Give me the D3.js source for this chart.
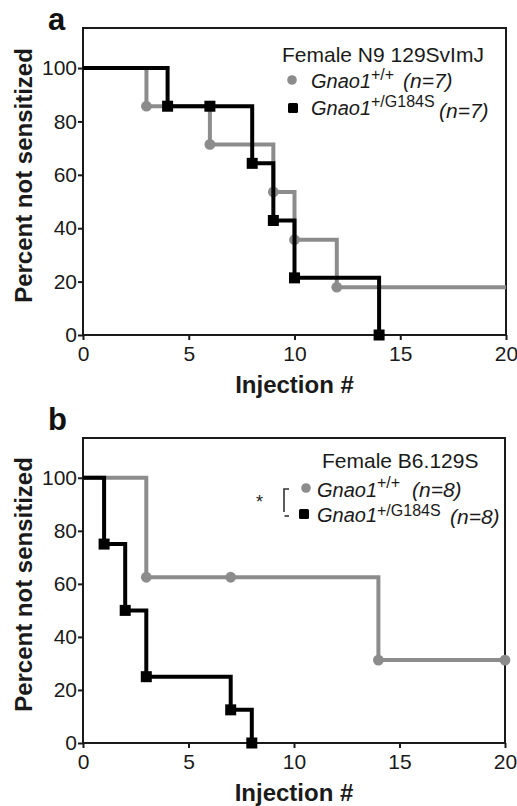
<!DOCTYPE html>
<html><head><meta charset="utf-8">
<script src="https://cdn.jsdelivr.net/npm/d3@7"></script>
<style>body{margin:0;background:#fff}svg{display:block}</style>
</head><body>
<svg id="c" width="517" height="806"></svg>
<script>
// ---------- data ----------
const xTicks = [0, 5, 10, 15, 20];
const yTicks = [0, 20, 40, 60, 80, 100];

// Panel a: Female N9 129SvImJ
const aWtT = [0, 3, 6, 9, 10, 12, 20];
const aWtP = [100, 85.7, 71.4, 53.6, 35.7, 17.9, 17.9];
const aWtMarkT = [3, 6, 9, 10, 12];
const aWtMarkP = [85.7, 71.4, 53.6, 35.7, 17.9];
const aMutT = [0, 4, 8, 9, 10, 14];
const aMutP = [100, 85.7, 64.3, 42.9, 21.4, 0];
const aMutMarkT = [4, 6, 8, 9, 10, 14];
const aMutMarkP = [85.7, 85.7, 64.3, 42.9, 21.4, 0];

// Panel b: Female B6.129S
const bWtT = [0, 3, 14, 20];
const bWtP = [100, 62.5, 31.25, 31.25];
const bWtMarkT = [3, 7, 14, 20];
const bWtMarkP = [62.5, 62.5, 31.25, 31.25];
const bMutT = [0, 1, 2, 3, 7, 8];
const bMutP = [100, 75, 50, 25, 12.5, 0];
const bMutMarkT = [1, 2, 3, 7, 8];
const bMutMarkP = [75, 50, 25, 12.5, 0];

const panelLabels = ["a", "b"];
const legendTitles = ["Female N9 129SvImJ", "Female B6.129S"];
const geneName = "Gnao1";
const genotypes = ["+/+", "+/G184S"];
const nLabels = [["(n=7)", "(n=7)"], ["(n=8)", "(n=8)"]];
const xTitle = "Injection #";
const yTitle = "Percent not sensitized";

// ---------- drawing ----------
const FONT = "'Liberation Sans', Arial, Helvetica, sans-serif";
const GRAY = "#8c8c8c";
const svg = d3.select("#c").style("font-family", FONT);

function zip(t, p) { return t.map((d, i) => [d, p[i]]); }

function panel(cfg) {
  const x = d3.scaleLinear().domain([0, 20]).range([cfg.left, cfg.right]);
  const y = d3.scaleLinear().domain([0, 115]).range([cfg.bottom, cfg.top]);
  const g = svg.append("g");

  // frame
  g.append("rect").attr("x", cfg.left).attr("y", cfg.top)
    .attr("width", cfg.right - cfg.left).attr("height", cfg.bottom - cfg.top)
    .attr("fill", "none").attr("stroke", "#1a1a1a").attr("stroke-width", 2);

  // axes
  const ax = g.append("g").attr("transform", `translate(0,${cfg.bottom})`)
    .call(d3.axisBottom(x).tickValues(xTicks).tickSize(5).tickSizeOuter(0).tickPadding(6));
  const ay = g.append("g").attr("transform", `translate(${cfg.left},0)`)
    .call(d3.axisLeft(y).tickValues(yTicks).tickSize(5).tickSizeOuter(0).tickPadding(1));
  [ax, ay].forEach(a => {
    a.select(".domain").remove();
    a.selectAll("line").attr("stroke", "#1a1a1a").attr("stroke-width", 2);
    a.selectAll("text").attr("font-size", 21).attr("font-family", FONT).attr("fill", "#1a1a1a");
  });

  // titles
  g.append("text").attr("x", (cfg.left + cfg.right) / 2).attr("y", cfg.bottom + 58)
    .attr("text-anchor", "middle").attr("font-size", 24).attr("font-weight", "bold")
    .attr("fill", "#1a1a1a").text(xTitle);
  g.append("text")
    .attr("transform", `translate(32,${(cfg.top + cfg.bottom) / 2 - 6}) rotate(-90)`)
    .attr("text-anchor", "middle").attr("font-size", 24).attr("font-weight", "bold")
    .attr("fill", "#1a1a1a").text(yTitle);
  g.append("text").attr("x", 48).attr("y", cfg.top + cfg.labelDy)
    .attr("font-size", 31).attr("font-weight", "bold").attr("fill", "#111").text(cfg.label);

  const line = d3.line().x(d => x(d[0])).y(d => y(d[1])).curve(d3.curveStepAfter);

  // wild type (gray)
  g.append("path").datum(zip(cfg.wtT, cfg.wtP)).attr("d", line)
    .attr("fill", "none").attr("stroke", GRAY).attr("stroke-width", 4);
  g.selectAll(".wtm").data(zip(cfg.wtMT, cfg.wtMP)).join("circle")
    .attr("cx", d => x(d[0])).attr("cy", d => y(d[1])).attr("r", 5.4).attr("fill", GRAY);

  // mutant (black)
  g.append("path").datum(zip(cfg.mutT, cfg.mutP)).attr("d", line)
    .attr("fill", "none").attr("stroke", "#000").attr("stroke-width", 4);
  g.selectAll(".mm").data(zip(cfg.mutMT, cfg.mutMP)).join("rect")
    .attr("x", d => x(d[0]) - 5.5).attr("y", d => y(d[1]) - 5.5)
    .attr("width", 11).attr("height", 11).attr("fill", "#000");

  // legend
  const L = cfg.leg;
  g.append("text").attr("x", L.titleX).attr("y", L.titleY).attr("font-size", 21)
    .attr("fill", "#1a1a1a").text(cfg.legTitle);
  L.rows.forEach((r, i) => {
    if (i === 0) {
      g.append("circle").attr("cx", r.mx).attr("cy", r.my).attr("r", 4.8).attr("fill", GRAY);
    } else {
      g.append("rect").attr("x", r.mx - 5).attr("y", r.my - 5).attr("width", 10).attr("height", 10)
        .attr("rx", 1.5).attr("fill", "#000");
    }
    const t = g.append("text").attr("fill", "#1a1a1a");
    t.append("tspan").attr("x", r.tx).attr("y", r.ty).attr("font-size", 20)
      .attr("font-style", "italic").text(geneName);
    t.append("tspan").attr("x", r.sx).attr("y", r.sy).attr("font-size", 16)
      .text(genotypes[i]);
    t.append("tspan").attr("x", r.nx).attr("y", r.ny).attr("font-size", 21)
      .attr("font-style", "italic").text(cfg.nLab[i]);
  });
  if (cfg.sig) {
    g.append("text").attr("x", 256).attr("y", 508).attr("font-size", 18)
      .attr("fill", "#1a1a1a").text("*");
    g.append("path").attr("d", "M289,489 H284 V512").attr("fill", "none")
      .attr("stroke", "#333").attr("stroke-width", 1.6);
    g.append("path").attr("d", "M284.5,516 H289").attr("fill", "none")
      .attr("stroke", "#333").attr("stroke-width", 1.6);
  }
}

panel({
  left: 83, right: 506, top: 28, bottom: 335, label: panelLabels[0], labelDy: 2,
  wtT: aWtT, wtP: aWtP, wtMT: aWtMarkT, wtMP: aWtMarkP,
  mutT: aMutT, mutP: aMutP, mutMT: aMutMarkT, mutMP: aMutMarkP,
  legTitle: legendTitles[0], nLab: nLabels[0],
  leg: { titleX: 282, titleY: 62, rows: [
    { mx: 292, my: 80, tx: 311, ty: 88, sx: 371, sy: 80, nx: 403, ny: 88 },
    { mx: 293, my: 108, tx: 311, ty: 115, sx: 371, sy: 107, nx: 439, ny: 118 } ] }
});

panel({
  left: 83, right: 505, top: 438, bottom: 743, label: panelLabels[1], labelDy: -8,
  wtT: bWtT, wtP: bWtP, wtMT: bWtMarkT, wtMP: bWtMarkP,
  mutT: bMutT, mutP: bMutP, mutMT: bMutMarkT, mutMP: bMutMarkP,
  legTitle: legendTitles[1], nLab: nLabels[1], sig: true,
  leg: { titleX: 322, titleY: 468, rows: [
    { mx: 306, my: 488, tx: 317, ty: 497, sx: 377, sy: 488, nx: 412, ny: 497 },
    { mx: 304, my: 514, tx: 317, ty: 522, sx: 377, sy: 516, nx: 450, ny: 524 } ] }
});
</script>
</body></html>
